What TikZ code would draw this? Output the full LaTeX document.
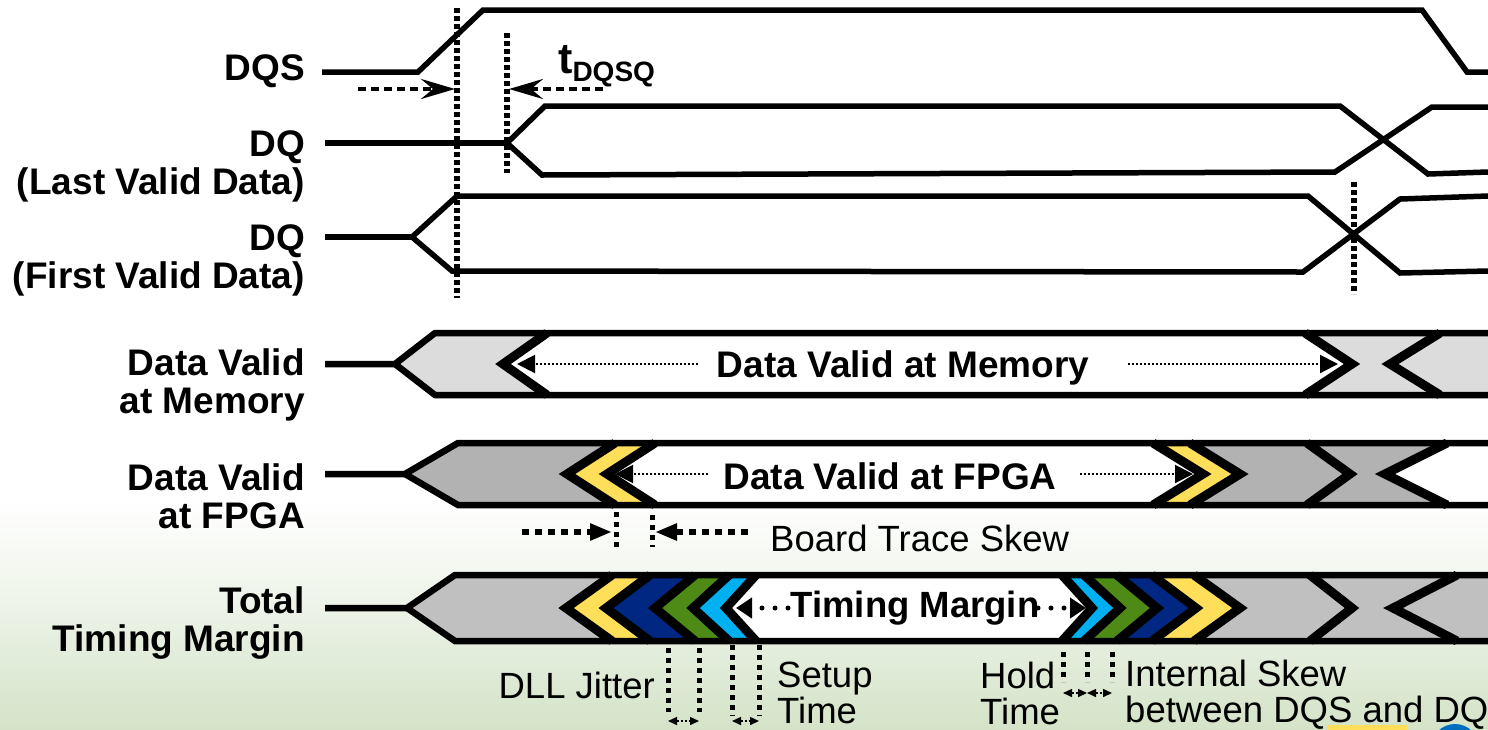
\documentclass[tikz,border=0pt]{standalone}
\usepackage{fontspec}
\setmainfont{Liberation Sans}
\usetikzlibrary{arrows.meta}
\definecolor{busLight}{RGB}{220,220,220}
\definecolor{busMid}{RGB}{178,178,178}
\definecolor{busGray}{RGB}{192,192,192}
\definecolor{marYellow}{RGB}{255,222,89}
\definecolor{marNavy}{RGB}{0,40,130}
\definecolor{marGreen}{RGB}{78,138,22}
\definecolor{marCyan}{RGB}{0,176,240}
\definecolor{bgGreen}{RGB}{212,227,200}
\definecolor{bgMid}{RGB}{238,244,233}
\definecolor{logoBlue}{RGB}{0,110,190}
\tikzset{
  sig/.style={line width=5.5pt, line join=miter},
  bus/.style={line width=6.5pt, line join=miter},
  chev/.style={line width=9pt, line join=miter, miter limit=6},
  vdots/.style={line width=6pt, dash pattern=on 5pt off 3pt},
  tickdots/.style={line width=5pt, dash pattern=on 5pt off 5pt},
  skewarrow/.style={line width=4pt, dash pattern=on 8pt off 5pt,
    -{Stealth[length=34pt,width=20pt,inset=12pt]}},
  boardarrow/.style={line width=6pt, dash pattern=on 7pt off 6pt,
    -{Triangle[length=22pt,width=16pt]}},
  thinarrow/.style={line width=2pt, dash pattern=on 2pt off 2pt,
    -{Triangle[length=18pt,width=18pt]}},
  marginarrow/.style={line width=5pt, line cap=round, dash pattern=on 0pt off 13pt,
    -{Triangle[length=16pt,width=20pt]}},
  tinyarrow/.style={line width=1.5pt, dash pattern=on 2pt off 2pt,
    {Triangle[length=9pt,width=8pt]}-{Triangle[length=9pt,width=8pt]}},
  lbl/.style={font=\fontsize{37}{38}\selectfont\bfseries, align=right, inner sep=0pt},
  bustxt/.style={font=\fontsize{37}{38}\selectfont\bfseries, inner sep=0pt, fill=white},
  txt/.style={font=\fontsize{36.5}{36}\selectfont, inner sep=0pt, align=left},
}
\begin{document}
\begin{tikzpicture}[x=1pt,y=-1pt]
\useasboundingbox (0,0) rectangle (1488,729);
\clip (0,0) rectangle (1488,729);

% page background
\fill[white] (0,0) rectangle (1488,729);
\shade[top color=white, bottom color=bgMid] (0,500) rectangle (1488,600);
\shade[top color=bgMid, bottom color=bgGreen] (0,600) rectangle (1488,729);
\fill[marYellow] (1327,725) rectangle (1407,735);
\fill[logoBlue] (1455,748) circle (24);

% ---- signal labels ----
\node[lbl, anchor=east] (lDQS) at (305,71) {DQS};
\node[lbl, anchor=east] (lDQlast) at (305,166) {DQ\\(Last Valid Data)};
\node[lbl, anchor=east] (lDQfirst) at (305,260) {DQ\\(First Valid Data)};
\node[lbl, anchor=east] (lMem) at (305,385) {Data Valid\\at Memory};
\node[lbl, anchor=east] (lFpga) at (305,496) {Data Valid\\at FPGA};
\node[lbl, anchor=east] (lTotal) at (305,623) {Total\\Timing Margin};

% ---- DQS ----
\draw[sig] (322,72) -- (418,72) -- (483,10) -- (1422,10) -- (1467,72) -- (1488,72);

% ---- DQ, last valid data ----
\draw[sig] (325,143) -- (507,143);
\draw[sig] (1488,172) -- (1428,174) -- (1340,106) -- (545,106) -- (507,143)
  -- (542,175) -- (1335,172) -- (1432,107) -- (1488,107);

% ---- DQ, first valid data ----
\draw[sig] (325,237) -- (412,237);
\draw[sig] (1488,271) -- (1400,273) -- (1308,196) -- (457,196) -- (412,237)
  -- (452,271) -- (1303,272) -- (1400,199) -- (1488,196);

% strobe / data reference lines
\draw[vdots] (457,8) -- (457,298);
\draw[vdots] (507,33) -- (507,173);
\draw[vdots] (1354,182) -- (1354,294);

% tDQSQ
\draw[skewarrow] (358,89) -- (455,89);
\draw[skewarrow] (603,89) -- (509,89);
\node[anchor=base west, inner sep=0pt, font=\fontsize{43}{43}\selectfont\bfseries]
  (tdqsq) at (558,73) {t\raisebox{-8pt}{\fontsize{28}{30}\selectfont DQSQ}};

% ---- Data valid at memory ----
\fill[busLight] (395,364) -- (435,333) -- (1488,333) -- (1488,395) -- (435,395) -- cycle;
\fill[white] (503,364) -- (547,333) -- (1305,333) -- (1352,364) -- (1305,395) -- (547,395) -- cycle;
\draw[chev] (547,333) -- (503,364) -- (547,395);
\draw[chev] (1305,333) -- (1352,364) -- (1305,395);
\draw[chev] (1440,333) -- (1390,364) -- (1440,395);
\draw[bus] (325,364) -- (395,364) -- (435,333) -- (1488,333);
\draw[bus] (395,364) -- (435,395) -- (1488,395);
\node[bustxt] (tMem) at (903,368) {Data Valid at Memory};
\draw[thinarrow] (698,364) -- (517,364);
\draw[thinarrow] (1128,364) -- (1338,364);

% ---- Data valid at FPGA ----
\fill[busMid] (405,474) -- (458,443) -- (1488,443) -- (1488,505) -- (458,505) -- cycle;
\fill[marYellow] (567,474) -- (615,443) -- (655,443) -- (607,474) -- (655,505) -- (615,505) -- cycle;
\fill[white] (607,474) -- (655,443) -- (1153,443) -- (1203,474) -- (1153,505) -- (655,505) -- cycle;
\fill[marYellow] (1153,443) -- (1190,443) -- (1240,474) -- (1190,505) -- (1153,505) -- (1203,474) -- cycle;
\fill[white] (1385,474) -- (1447,443) -- (1488,443) -- (1488,505) -- (1447,505) -- cycle;
\draw[chev] (615,443) -- (567,474) -- (615,505);
\draw[chev] (655,443) -- (607,474) -- (655,505);
\draw[chev] (1153,443) -- (1203,474) -- (1153,505);
\draw[chev] (1190,443) -- (1240,474) -- (1190,505);
\draw[chev] (1307,443) -- (1350,474) -- (1307,505);
\draw[chev] (1447,443) -- (1385,474) -- (1447,505);
\draw[bus] (325,474) -- (405,474) -- (458,443) -- (1488,443);
\draw[bus] (405,474) -- (458,505) -- (1488,505);
\node[bustxt] (tFpga) at (890,476) {Data Valid at FPGA};
\draw[thinarrow] (708,474) -- (615,474);
\draw[thinarrow] (1080,474) -- (1193,474);

% board trace skew
\draw[tickdots] (616,512) -- (616,547);
\draw[tickdots] (652,515) -- (652,547);
\draw[boardarrow] (522,532) -- (612,532);
\draw[boardarrow] (748,532) -- (655,532);
\node[txt, anchor=west] (tBoard) at (770,538) {Board Trace Skew};

% ---- Total timing margin ----
\fill[busGray] (407,608) -- (455,575) -- (1488,575) -- (1488,641) -- (455,641) -- cycle;
\fill[marYellow] (566,608) -- (612,575) -- (650,575) -- (606,608) -- (650,641) -- (612,641) -- cycle;
\fill[marNavy] (606,608) -- (650,575) -- (695,575) -- (655,608) -- (695,641) -- (650,641) -- cycle;
\fill[marGreen] (655,608) -- (695,575) -- (729,575) -- (693,608) -- (729,641) -- (695,641) -- cycle;
\fill[marCyan] (693,608) -- (729,575) -- (756,575) -- (726,608) -- (756,641) -- (729,641) -- cycle;
\fill[white] (726,608) -- (756,575) -- (1062,575) -- (1092,608) -- (1062,641) -- (756,641) -- cycle;
\fill[marCyan] (1062,575) -- (1084,575) -- (1120,608) -- (1084,641) -- (1062,641) -- (1092,608) -- cycle;
\fill[marGreen] (1084,575) -- (1117,575) -- (1157,608) -- (1117,641) -- (1084,641) -- (1120,608) -- cycle;
\fill[marNavy] (1117,575) -- (1152,575) -- (1196,608) -- (1152,641) -- (1117,641) -- (1157,608) -- cycle;
\fill[marYellow] (1152,575) -- (1194,575) -- (1240,608) -- (1194,641) -- (1152,641) -- (1196,608) -- cycle;
\foreach \a/\d in {566/46, 606/44, 655/40, 693/36, 726/30}
  \draw[chev] (\a+\d,575) -- (\a,608) -- (\a+\d,641);
\foreach \a/\d in {1092/30, 1120/36, 1157/40, 1196/44, 1240/46}
  \draw[chev] (\a-\d,575) -- (\a,608) -- (\a-\d,641);
\draw[chev] (1310,575) -- (1352,608) -- (1310,641);
\draw[chev] (1457,575) -- (1393,608) -- (1457,641);
\draw[bus] (325,608) -- (407,608) -- (455,575) -- (1488,575);
\draw[bus] (407,608) -- (455,641) -- (1488,641);
\node[bustxt, font=\fontsize{36.5}{38}\selectfont\bfseries] (tMargin) at (915,608) {Timing Margin};
\draw[marginarrow] (788,608) -- (736,608);
\draw[marginarrow] (1038,608) -- (1086,608);

% ---- margin components ----
\draw[tickdots] (668,648) -- (668,712);
\draw[tickdots] (699,648) -- (699,712);
\draw[tickdots] (732,645) -- (732,716);
\draw[tickdots] (759,645) -- (759,716);
\draw[tinyarrow] (668,721) -- (699,721);
\draw[tinyarrow] (732,721) -- (759,721);
\node[txt, anchor=east] (tDll) at (655,685) {DLL Jitter};
\node[txt, anchor=north west] (tSetup) at (777,662) {Setup\\Time};

\draw[tickdots] (1063,652) -- (1063,682);
\draw[tickdots] (1087,652) -- (1087,682);
\draw[tickdots] (1112,652) -- (1112,682);
\draw[tinyarrow] (1063,693) -- (1087,693);
\draw[tinyarrow] (1087,693) -- (1112,693);
\node[txt, anchor=north west] (tHold) at (980,662) {Hold\\Time};
\node[txt, anchor=north west] (tSkew) at (1125,660) {Internal Skew\\between DQS and DQ};
\end{tikzpicture}
\end{document}
